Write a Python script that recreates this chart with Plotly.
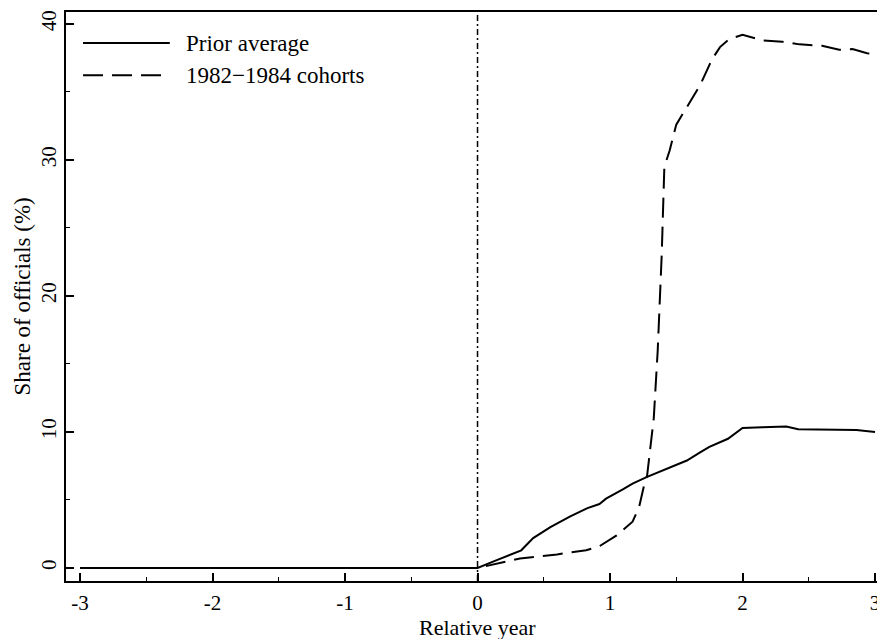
import plotly.graph_objects as go

# Data
prior_x = [-3, 0, 0.15, 0.33, 0.42, 0.55, 0.7, 0.83, 0.92, 0.97, 1.1, 1.17, 1.28, 1.4,
           1.51, 1.58, 1.68, 1.75, 1.89, 2.0, 2.15, 2.26, 2.33, 2.42, 2.6, 2.86, 3.0]
prior_y = [0, 0, 0.6, 1.3, 2.2, 3.0, 3.8, 4.4, 4.7, 5.1, 5.8, 6.2, 6.7, 7.2,
           7.6, 7.9, 8.5, 8.9, 9.5, 10.3, 10.35, 10.4, 10.4, 10.2, 10.2, 10.15, 10.0]

cohort_x = [-3, 0, 0.32, 0.6, 0.82, 0.92, 1.05, 1.17, 1.22, 1.26, 1.28, 1.33, 1.36, 1.39,
            1.41, 1.45, 1.50, 1.58, 1.68, 1.77, 1.83, 1.9, 2.0, 2.15, 2.3, 2.43, 2.6,
            2.73, 2.83, 2.94, 3.0]
cohort_y = [0, 0, 0.7, 1.0, 1.3, 1.6, 2.4, 3.4, 4.5, 6.2, 6.8, 11, 16, 23,
            29.5, 30.7, 32.6, 33.9, 35.5, 37.4, 38.3, 38.9, 39.2, 38.8, 38.7, 38.5, 38.4,
            38.1, 38.15, 37.85, 37.8]

series_names = ["Prior average", "1982\u22121984 cohorts"]
x_ticks = [-3, -2, -1, 0, 1, 2, 3]
y_ticks = [0, 10, 20, 30, 40]

FONT = "Liberation Serif, Times New Roman, serif"

fig = go.Figure()
fig.add_trace(go.Scatter(x=prior_x, y=prior_y, mode="lines", name=series_names[0],
                         line=dict(color="black", width=2), showlegend=False))
fig.add_trace(go.Scatter(x=cohort_x, y=cohort_y, mode="lines", name=series_names[1],
                         line=dict(color="black", width=2, dash="20px,9px"), showlegend=False))

# vertical reference line at 0
fig.add_shape(type="line", xref="x", yref="paper", x0=0, x1=0, y0=0, y1=1,
              line=dict(color="black", width=1.5, dash="6px,3px,2px,3px"))

# manual legend
legend_rows = [(0.9455, "solid", series_names[0]), (0.889, "20px,9px", series_names[1])]
for yy, dash, label in legend_rows:
    fig.add_shape(type="line", xref="paper", yref="paper", x0=0.021, x1=0.128, y0=yy, y1=yy,
                  line=dict(color="black", width=2, dash=dash))
    fig.add_annotation(xref="paper", yref="paper", x=0.145, y=yy, text=label,
                       showarrow=False, xanchor="left", yanchor="middle",
                       font=dict(family=FONT, size=23, color="black"))

# axis titles
fig.add_annotation(xref="x", yref="paper", x=0, y=0, yshift=-46, text="Relative year",
                   showarrow=False, xanchor="center", yanchor="middle",
                   font=dict(family=FONT, size=22, color="black"))
fig.add_annotation(xref="paper", yref="paper", x=0, xshift=-44, y=0.5, text="Share of officials (%)",
                   showarrow=False, textangle=-90, xanchor="center", yanchor="middle",
                   font=dict(family=FONT, size=23, color="black"))

fig.update_layout(
    width=877, height=639,
    margin=dict(l=66, r=0, t=12, b=58),
    paper_bgcolor="white", plot_bgcolor="white",
    font=dict(family=FONT, size=21, color="black"),
    xaxis=dict(range=[-3.106, 3.015], tickvals=x_ticks, ticktext=[str(v) for v in x_ticks],
               ticks="inside", ticklen=8, tickwidth=1.5, tickcolor="black",
               showline=True, linecolor="black", linewidth=1.5, mirror=True,
               showgrid=False, zeroline=False, automargin=False,
               ticklabeloverflow="allow", ticklabelstandoff=2,
               minor=dict(dtick=0.5, tick0=0, ticks="inside", ticklen=4, tickwidth=1, tickcolor="black"),
               tickfont=dict(family=FONT, size=21)),
    yaxis=dict(range=[-0.956, 40.88], tickvals=y_ticks, ticktext=[str(v) for v in y_ticks],
               ticks="inside", ticklen=8, tickwidth=1.5, tickcolor="black", tickangle=-90,
               showline=True, linecolor="black", linewidth=1.5,
               showgrid=False, zeroline=False, automargin=False,
               ticklabelstandoff=0,
               minor=dict(dtick=5, tick0=0, ticks="inside", ticklen=4, tickwidth=1, tickcolor="black"),
               tickfont=dict(family=FONT, size=21)),
)

# remove the default page margin so the figure fills the window exactly
fig.write_html("out.html", config={"displayModeBar": False},
               post_script="document.body.style.margin='0';document.body.style.overflow='hidden';")
